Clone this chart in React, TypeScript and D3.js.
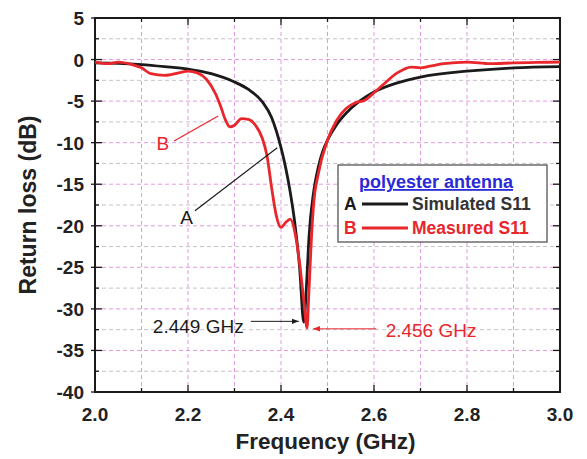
import React, { useRef, useEffect } from 'react';
import * as d3 from 'd3';

// simulated S11 (curve A)
const simFreq = [2.0, 2.05, 2.1, 2.15, 2.2, 2.25, 2.3, 2.33, 2.36, 2.38, 2.39, 2.4, 2.41, 2.42, 2.43, 2.44, 2.449, 2.455, 2.46, 2.47, 2.48, 2.49, 2.5, 2.52, 2.55, 2.6, 2.65, 2.7, 2.8, 2.9, 3.0];
const simLoss = [-0.4, -0.45, -0.6, -0.85, -1.15, -1.7, -2.7, -3.6, -5.1, -7.0, -8.6, -10.6, -13.0, -16.0, -19.8, -25, -31.6, -27, -21.5, -16, -13, -11, -9.7, -7.8, -5.9, -3.9, -2.8, -2.1, -1.4, -1.0, -0.85];

// measured S11 (curve B)
const measFreq = [2.0, 2.03, 2.05, 2.08, 2.1, 2.12, 2.15, 2.18, 2.2, 2.22, 2.24, 2.26, 2.27, 2.28, 2.29, 2.3, 2.315, 2.33, 2.345, 2.36, 2.37, 2.38, 2.39, 2.4, 2.41, 2.42, 2.43, 2.44, 2.45, 2.456, 2.46, 2.465, 2.47, 2.48, 2.5, 2.52, 2.54, 2.56, 2.58, 2.6, 2.62, 2.65, 2.68, 2.7, 2.72, 2.75, 2.8, 2.85, 2.9, 2.95, 3.0];
const measLoss = [-0.3, -0.5, -0.3, -0.6, -1.0, -1.7, -1.9, -1.6, -1.4, -1.6, -2.4, -4.2, -5.6, -7.2, -8.1, -7.9, -7.1, -7.2, -7.9, -9.5, -11.6, -15.5, -18.8, -20.2, -19.6, -19.2, -20.8, -24.5, -29.5, -32.3, -28, -22, -17.5, -13.8, -9.7, -7.3, -5.9, -5.2, -4.9, -4.0, -3.0, -1.6, -0.9, -1.0, -0.8, -0.5, -0.3, -0.5, -0.4, -0.35, -0.3];

const xTickLabels = ['2.0', '2.2', '2.4', '2.6', '2.8', '3.0'];
const yTickLabels = ['5', '0', '-5', '-10', '-15', '-20', '-25', '-30', '-35', '-40'];

const simResonance = { f: 2.449, db: -31.6, label: '2.449 GHz' };
const measResonance = { f: 2.456, db: -32.3, label: '2.456 GHz' };

export default function App() {
  const ref = useRef<SVGSVGElement>(null);

  useEffect(() => {
    const svg = d3.select(ref.current);
    svg.selectAll('*').remove();

    const width = 587;
    const height = 459;
    const margin = { top: 18, right: 27, bottom: 67, left: 95 };
    const font = 'Liberation Sans, Arial, sans-serif';
    const black = '#1a1a1a';
    const red = '#e8262c';

    const x = d3.scaleLinear().domain([2.0, 3.0]).range([margin.left, width - margin.right]);
    const y = d3.scaleLinear().domain([-40, 5]).range([height - margin.bottom, margin.top]);

    svg.append('rect').attr('width', width).attr('height', height).attr('fill', '#fff');

    // grid
    const grid = svg.append('g');
    grid.selectAll('line.v')
      .data(d3.range(1, 10).map(i => 2 + i * 0.1))
      .join('line')
      .attr('x1', d => x(d)).attr('x2', d => x(d))
      .attr('y1', y(5)).attr('y2', y(-40))
      .attr('stroke', '#e39ae0').attr('stroke-width', 1).attr('stroke-dasharray', '4,3');
    grid.selectAll('line.h')
      .data(d3.range(1, 18).map(i => 5 - i * 2.5))
      .join('line')
      .attr('x1', x(2)).attr('x2', x(3))
      .attr('y1', d => y(d)).attr('y2', d => y(d))
      .attr('stroke', d => (d % 5 === 0 ? '#e39ae0' : '#c9c0cc'))
      .attr('stroke-width', 1).attr('stroke-dasharray', '4,3');

    // ticks inside the frame on all four sides
    const ticks = svg.append('g').attr('stroke', black).attr('stroke-width', 1.3);
    const xt = d3.range(0, 11).map(i => 2 + i * 0.1);
    xt.forEach((v, i) => {
      const len = i % 2 === 0 ? 7 : 4;
      ticks.append('line').attr('x1', x(v)).attr('x2', x(v)).attr('y1', y(-40)).attr('y2', y(-40) - len);
      ticks.append('line').attr('x1', x(v)).attr('x2', x(v)).attr('y1', y(5)).attr('y2', y(5) + len);
    });
    const yt = d3.range(0, 19).map(i => 5 - i * 2.5);
    yt.forEach((v, i) => {
      const len = i % 2 === 0 ? 7 : 4;
      ticks.append('line').attr('x1', x(2) - (i % 2 === 0 ? 4 : 0)).attr('x2', x(2) + len).attr('y1', y(v)).attr('y2', y(v));
      ticks.append('line').attr('x1', x(3)).attr('x2', x(3) - len).attr('y1', y(v)).attr('y2', y(v));
    });

    svg.append('rect')
      .attr('x', x(2)).attr('y', y(5))
      .attr('width', x(3) - x(2)).attr('height', y(-40) - y(5))
      .attr('fill', 'none').attr('stroke', black).attr('stroke-width', 2);

    // tick labels
    svg.append('g').selectAll('text')
      .data(xTickLabels)
      .join('text')
      .attr('x', d => x(+d)).attr('y', y(-40) + 29)
      .attr('text-anchor', 'middle')
      .attr('font-family', font).attr('font-weight', 'bold').attr('font-size', 19)
      .attr('fill', '#222')
      .text(d => d);
    svg.append('g').selectAll('text')
      .data(yTickLabels)
      .join('text')
      .attr('x', x(2) - 11).attr('y', d => y(+d) + 7)
      .attr('text-anchor', 'end')
      .attr('font-family', font).attr('font-weight', 'bold').attr('font-size', 19)
      .attr('fill', '#222')
      .text(d => d);

    // axis titles
    svg.append('text')
      .attr('x', (x(2) + x(3)) / 2 - 2).attr('y', 449)
      .attr('text-anchor', 'middle')
      .attr('font-family', font).attr('font-weight', 'bold').attr('font-size', 22.5)
      .attr('fill', '#222')
      .text('Frequency (GHz)');
    svg.append('text')
      .attr('transform', `translate(36,${(y(5) + y(-40)) / 2}) rotate(-90)`)
      .attr('text-anchor', 'middle')
      .attr('font-family', font).attr('font-weight', 'bold').attr('font-size', 23)
      .attr('fill', '#222')
      .text('Return loss (dB)');

    // curves
    const line = d3.line<[number, number]>()
      .x(d => x(d[0])).y(d => y(d[1]))
      .curve(d3.curveMonotoneX);
    const plot = svg.append('g');
    plot.append('path')
      .datum(simFreq.map((f, i) => [f, simLoss[i]] as [number, number]))
      .attr('fill', 'none').attr('stroke', black).attr('stroke-width', 2.8)
      .attr('d', line);
    plot.append('path')
      .datum(measFreq.map((f, i) => [f, measLoss[i]] as [number, number]))
      .attr('fill', 'none').attr('stroke', red).attr('stroke-width', 2.8)
      .attr('d', line);

    // curve labels
    const lab = svg.append('g').attr('font-family', font).attr('font-size', 19);
    lab.append('text').attr('x', x(2.146)).attr('y', y(-10) + 7)
      .attr('text-anchor', 'middle').attr('fill', red).text('B');
    lab.append('line')
      .attr('x1', x(2.17)).attr('y1', y(-9.8))
      .attr('x2', x(2.265)).attr('y2', y(-6.8))
      .attr('stroke', red).attr('stroke-width', 1.2);
    lab.append('text').attr('x', x(2.197)).attr('y', y(-19) + 7)
      .attr('text-anchor', 'middle').attr('fill', black).text('A');
    lab.append('line')
      .attr('x1', x(2.215)).attr('y1', y(-18.2))
      .attr('x2', x(2.392)).attr('y2', y(-10.6))
      .attr('stroke', black).attr('stroke-width', 1.2);

    // resonance markers
    svg.append('defs').html(
      `<marker id="ah-k" viewBox="0 0 10 10" refX="10" refY="5" markerWidth="7" markerHeight="7" orient="auto-start-reverse"><path d="M0,1 L10,5 L0,9 z" fill="${black}"/></marker>` +
      `<marker id="ah-r" viewBox="0 0 10 10" refX="10" refY="5" markerWidth="7" markerHeight="7" orient="auto-start-reverse"><path d="M0,1 L10,5 L0,9 z" fill="${red}"/></marker>`
    );
    lab.append('text').attr('x', x(2.222)).attr('y', y(-32.1) + 7)
      .attr('text-anchor', 'middle').attr('fill', black).text(simResonance.label);
    lab.append('line')
      .attr('x1', x(2.335)).attr('y1', y(-31.5))
      .attr('x2', x(simResonance.f) - 5).attr('y2', y(-31.5))
      .attr('stroke', black).attr('stroke-width', 1).attr('marker-end', 'url(#ah-k)');
    lab.append('text').attr('x', x(2.625)).attr('y', y(-32.6) + 7)
      .attr('text-anchor', 'start').attr('fill', red).text(measResonance.label);
    lab.append('line')
      .attr('x1', x(2.605)).attr('y1', y(-32.4))
      .attr('x2', x(measResonance.f) + 6).attr('y2', y(-32.4))
      .attr('stroke', red).attr('stroke-width', 1).attr('marker-end', 'url(#ah-r)');

    // legend
    const lg = svg.append('g').attr('font-family', font).attr('font-weight', 'bold').attr('font-size', 17.5);
    lg.append('rect').attr('x', 338).attr('y', 165).attr('width', 209).attr('height', 77)
      .attr('fill', '#fff').attr('stroke', '#555').attr('stroke-width', 1.3);
    lg.append('text').attr('x', 436).attr('y', 188).attr('text-anchor', 'middle').attr('font-size', 18)
      .attr('fill', '#2a2ad8').attr('text-decoration', 'underline').text('polyester antenna');
    lg.append('text').attr('x', 344).attr('y', 210).attr('fill', black).text('A');
    lg.append('line').attr('x1', 362).attr('x2', 408).attr('y1', 204).attr('y2', 204)
      .attr('stroke', black).attr('stroke-width', 2.8);
    lg.append('text').attr('x', 412).attr('y', 210).attr('fill', '#333').text('Simulated S11');
    lg.append('text').attr('x', 344).attr('y', 234).attr('fill', red).text('B');
    lg.append('line').attr('x1', 362).attr('x2', 408).attr('y1', 228).attr('y2', 228)
      .attr('stroke', red).attr('stroke-width', 2.8);
    lg.append('text').attr('x', 412).attr('y', 234).attr('fill', red).text('Measured S11');
  }, []);

  return (
    <svg ref={ref} width={587} height={459} style={{ position: 'absolute', left: 0, top: 0 }}></svg>
  );
}
